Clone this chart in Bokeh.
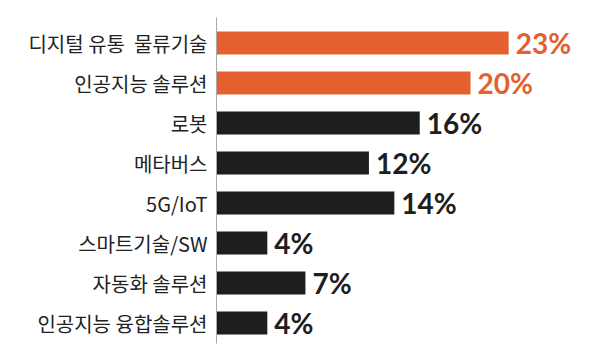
from bokeh.plotting import figure
from bokeh.models import ColumnDataSource, Range1d, FixedTicker
from bokeh.embed import file_html
from bokeh.resources import INLINE
from bokeh.core.properties import value

categories = ["디지털 유통\u00a0 물류기술", "인공지능 솔루션", "로봇", "메타버스", "5G/IoT",
              "스마트기술/SW", "자동화 솔루션", "인공지능 융합솔루션"]
values = [23, 20, 16, 12, 14, 4, 7, 4]
highlight = [True, True, False, False, False, False, False, False]

ORANGE = "#E4612F"
DARK = "#1E1E1C"

colors = [ORANGE if h else DARK for h in highlight]
pos = list(range(len(categories)))
labels = [f"{v}%" for v in values]

src = ColumnDataSource(dict(y=pos, v=values, c=colors, t=labels))

p = figure(width=600, height=360, output_backend="svg", toolbar_location=None,
           x_range=Range1d(0, 29.6), y_range=Range1d(7.5125, -0.6375),
           min_border_left=216, min_border_right=8, min_border_top=17, min_border_bottom=17)
p.outline_line_color = None
p.background_fill_color = "white"
p.border_fill_color = "white"
p.grid.visible = False
p.xaxis.visible = False

p.hbar(y="y", right="v", left=0, height=0.58, fill_color="c", line_color=None, source=src)
p.text(x="v", y="y", text="t", text_color="c", x_offset=7,
       text_font=value("Lato"), text_font_style="bold", text_font_size="28px",
       text_baseline="middle", text_align="left", source=src)

ya = p.yaxis[0]
ya.ticker = FixedTicker(ticks=pos)
ya.major_label_overrides = {i: c for i, c in zip(pos, categories)}
ya.major_tick_line_color = None
ya.minor_tick_line_color = None
ya.axis_line_color = "#A8A8A8"
ya.axis_line_width = 1
ya.major_label_standoff = 3
ya.major_label_text_font = "Noto Sans CJK KR"
ya.major_label_text_font_size = "20px"
ya.major_label_text_color = "#222222"

open("out.html", "w").write(file_html(p, INLINE))
